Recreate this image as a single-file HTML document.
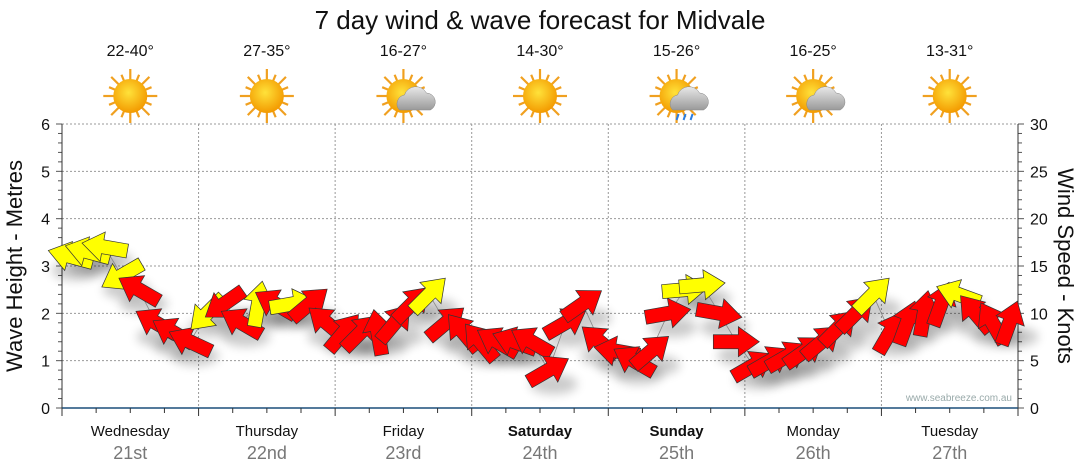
<!DOCTYPE html>
<html><head><meta charset="utf-8">
<style>
body{margin:0;background:#fff;font-family:"Liberation Sans",sans-serif;}
svg{display:block}
</style></head>
<body>
<svg id="chart" width="1080" height="475" font-family="Liberation Sans, DejaVu Sans, sans-serif">
<defs>
<filter id="sh" x="-50%" y="-50%" width="200%" height="200%"><feGaussianBlur stdDeviation="5"/></filter>
<radialGradient id="sun" cx="45%" cy="40%" r="60%"><stop offset="0" stop-color="#ffe23a"/><stop offset="1" stop-color="#f39a00"/></radialGradient>
<linearGradient id="cloud" x1="0" y1="0" x2="0" y2="1"><stop offset="0" stop-color="#e8e8e8"/><stop offset="1" stop-color="#9a9a9a"/></linearGradient>
</defs>
<text x="540" y="29" text-anchor="middle" font-size="26" fill="#111">7 day wind &amp; wave forecast for Midvale</text>
<g id="grid"></g>
<g id="axes"></g>
<g id="icons"></g>
<g id="marks"></g>
<text x="1012" y="401" text-anchor="end" font-size="10" fill="#9aa">www.seabreeze.com.au</text>
<text transform="translate(22,266) rotate(-90)" text-anchor="middle" font-size="22" fill="#111">Wave Height - Metres</text>
<text transform="translate(1058,266) rotate(90)" text-anchor="middle" font-size="22" fill="#111">Wind Speed - Knots</text>
</svg>
<script>
const days=["Wednesday","Thursday","Friday","Saturday","Sunday","Monday","Tuesday"];
const dates=["21st","22nd","23rd","24th","25th","26th","27th"];
const temps=["22-40°","27-35°","16-27°","14-30°","15-26°","16-25°","13-31°"];
const weather=["sun","sun","cloud","sun","rain","cloud","sun"];
const leftTicks=[0,1,2,3,4,5,6];
const rightTicks=[0,5,10,15,20,25,30];
const windSpeed=[16,16.5,17,14,12.5,9,8,7, 10,11,9,11,11,11,11,9, 8,8,8,9,11,12,9,8, 7,7,7,7,4,9,11,7, 6,5,6,10,12.5,13,10,7, 4.5,5,5.5,6,7,8.5,10,12, 8,9,10,11,12,10,9,9];
const windDir=[165,165,170,210,150,150,150,155, 225,215,150,80,150,10,40,140, 50,45,100,50,45,45,40,130, 130,150,160,150,30,30,35,140, 170,150,40,10,5,5,-10,0, 30,30,30,35,40,45,45,45, 60,70,80,70,160,130,120,70];
const yellowFlag=[1,1,1,1,0,0,0,0, 1,0,0,1,0,1,0,0, 0,0,0,0,0,1,0,0, 0,0,0,0,0,0,0,0, 0,0,0,0,1,1,0,0, 0,0,0,0,0,0,0,1, 0,0,0,0,1,0,0,0];

const NS="http://www.w3.org/2000/svg";
const X0=62,X1=1018,Y0=408,Y1=124,dayW=(X1-X0)/7;
const yM=v=>Y0-(v/6)*(Y0-Y1);
const yK=v=>Y0-(v/30)*(Y0-Y1);
const xT=i=>X0+(i+0.5)*((X1-X0)/windSpeed.length);
function mk(tag,attrs,parent,txt){const e=document.createElementNS(NS,tag);for(const k in attrs)e.setAttribute(k,attrs[k]);if(txt!==undefined)e.textContent=txt;parent.appendChild(e);return e;}
const grid=document.getElementById('grid'),axes=document.getElementById('axes'),icons=document.getElementById('icons'),marks=document.getElementById('marks');

leftTicks.forEach(v=>{if(v>0){const l=mk('line',{x1:X0,x2:X1,y1:yM(v),y2:yM(v),stroke:'#999','stroke-dasharray':'2,2','stroke-width':1},grid);

}
const t=mk('text',{x:50,y:yM(v)+6,'text-anchor':'end','font-size':16,fill:'#111'},axes,v);

});
rightTicks.forEach(v=>{const t=mk('text',{x:1030,y:yK(v)+6,'font-size':16,fill:'#111'},axes,v);

});
for(let i=0;i<=30;i++){const y=Y0-i*(Y0-Y1)/30;const len=i%5==0?6:4;
mk('line',{x1:X0-len,x2:X0,y1:y,y2:y,stroke:'#555'},axes);
mk('line',{x1:X1,x2:X1+len,y1:y,y2:y,stroke:'#555'},axes);}
mk('line',{x1:X0,x2:X0,y1:Y1,y2:Y0,stroke:'#333'},axes);
mk('line',{x1:X1,x2:X1,y1:Y1,y2:Y0,stroke:'#333'},axes);
mk('line',{x1:X0,x2:X1,y1:Y0,y2:Y0,stroke:'#1b4f7a','stroke-width':1.5},axes);
for(let i=0;i<=28;i++){const x=X0+i*dayW/4;mk('line',{x1:x,x2:x,y1:Y0,y2:Y0+(i%4==0?8:5),stroke:'#333'},axes);}
days.forEach((d,i)=>{const cx=X0+(i+0.5)*dayW;
if(i>0){const g=mk('line',{x1:X0+i*dayW,x2:X0+i*dayW,y1:Y1,y2:Y0,stroke:'#999','stroke-dasharray':'2,2'},grid);

}
const bold=(d=="Saturday"||d=="Sunday");
const t=mk('text',{x:cx,y:436,'text-anchor':'middle','font-size':15,fill:'#111','font-weight':bold?'bold':'normal'},axes,d);


const t2=mk('text',{x:cx,y:459,'text-anchor':'middle','font-size':18,fill:'#777'},axes,dates[i]);


const t3=mk('text',{x:cx,y:56,'text-anchor':'middle','font-size':16,fill:'#111'},icons,temps[i]);


const g=mk('g',{transform:`translate(${cx},96)`},icons);


for(let r=0;r<16;r++){const a=r*Math.PI/8;mk('line',{x1:Math.cos(a)*15,y1:Math.sin(a)*15,x2:Math.cos(a)*(r%2?23:27),y2:Math.sin(a)*(r%2?23:27),stroke:'#f0a020','stroke-width':2.2},g);}
mk('circle',{r:17,fill:'url(#sun)'},g);
if(weather[i]!="sun"){mk('path',{d:'M-4,14 a9,9 0 0 1 5,-15 a12,12 0 0 1 22,-2 a9,9 0 0 1 4,17 z',fill:'url(#cloud)',stroke:'#888','stroke-width':0.5},g);}
if(weather[i]=="rain"){[2,9,16].forEach(dx=>mk('line',{x1:dx,y1:18,x2:dx-2,y2:24,stroke:'#2a7de1','stroke-width':2},g));}
});

windSpeed.forEach((s,i)=>{mk('ellipse',{cx:xT(i)+5,cy:yK(s)+14,rx:24,ry:10,fill:'#000',opacity:0.2,filter:'url(#sh)'},marks);});
let pts=windSpeed.map((s,i)=>xT(i)+','+yK(s)).join(' ');
const pl=mk('polyline',{points:pts,fill:'none',stroke:'#888','stroke-width':0.8},marks);


windSpeed.forEach((s,i)=>{
const a=mk('path',{d:'M-23,-7 L2,-7 L2,-15 L23,0 L2,15 L2,7 L-23,7 Z',fill:yellowFlag[i]?'#ffff00':'#ff0000',stroke:'#333','stroke-width':0.7,transform:`translate(${xT(i)},${yK(s)}) rotate(${-windDir[i]})`},marks);


});
</script>
</body></html>
